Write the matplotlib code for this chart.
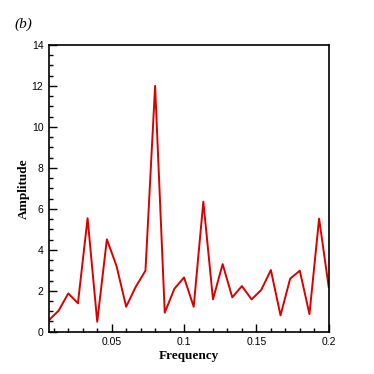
import numpy as np
import matplotlib
matplotlib.use('Agg')
import matplotlib.pyplot as plt
from matplotlib.ticker import MultipleLocator

# spectrum samples, frequency = k/150
k = np.arange(1, 31)
freq = k / 150.0
amp = [0.57, 1.03, 1.87, 1.39, 5.54, 0.49, 4.51, 3.21, 1.22, 2.2,
       2.98, 12.0, 0.93, 2.1, 2.65, 1.22, 6.35, 1.58, 3.3, 1.68,
       2.23, 1.58, 2.04, 3.01, 0.8, 2.59, 2.98, 0.86, 5.52, 2.17]
xticks = [0.05, 0.1, 0.15, 0.2]
xticklabels = ['0.05', '0.1', '0.15', '0.2']

fig = plt.figure(figsize=(3.74, 3.74), dpi=100)
ax = fig.add_axes([0.131, 0.113, 0.748, 0.767])
ax.plot(freq, amp, color='#d90000', lw=1.4)

ax.set_xlim(freq[0], 0.2)
ax.set_ylim(0, 14)
ax.set_xticks(xticks)
ax.set_xticklabels(xticklabels)
ax.xaxis.set_minor_locator(MultipleLocator(0.01))
ax.yaxis.set_major_locator(MultipleLocator(2))
ax.yaxis.set_minor_locator(MultipleLocator(0.5))
ax.tick_params(which='both', direction='in', labelsize=7.5, width=1, pad=4)
ax.tick_params(which='major', length=6)
ax.tick_params(which='minor', length=3)
for lab in ax.get_xticklabels() + ax.get_yticklabels():
    lab.set_family('Liberation Sans')
for s in ax.spines.values():
    s.set_linewidth(1.2)

ax.set_xlabel('Frequency', family='Liberation Serif', fontweight='bold', fontsize=9.5, labelpad=2)
ax.set_ylabel('Amplitude', family='Liberation Serif', fontweight='bold', fontsize=9.5, labelpad=1)
fig.text(0.04, 0.925, '(b)', family='Liberation Serif', style='italic', fontsize=11)

plt.savefig('out.png', dpi=100)
